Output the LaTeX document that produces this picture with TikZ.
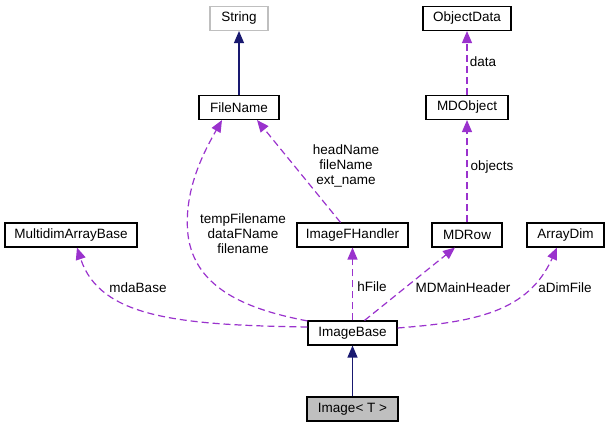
\documentclass[tikz,border=0pt]{standalone}
\usepackage{fontspec}
\setmainfont{Liberation Sans}
\usepackage{tikz}
\usetikzlibrary{arrows.meta}
\definecolor{inhblue}{HTML}{191970}
\definecolor{usepurple}{HTML}{9A32CD}
\definecolor{boxgray}{HTML}{BFBFBF}

\begin{document}
\begin{tikzpicture}[x=1pt, y=-1pt,
  cls/.style={draw, line width=1.1pt, minimum height=24pt, inner sep=0pt, font=\fontsize{13.5}{15}\selectfont},
  inherit/.style={draw=inhblue, line width=1.2pt, -{Triangle[length=12pt, width=10pt]}},
  usage/.style={draw=usepurple, line width=1.2pt, dash pattern=on 7pt off 4pt, -{Triangle[length=12pt, width=10pt]}},
  lbl/.style={font=\fontsize{13.5}{15}\selectfont, align=center, inner sep=0pt}]
  \useasboundingbox (0,0) rectangle (610,428);

  % Classes
  \node[cls, draw=boxgray, minimum width=58pt] (string) at (239,18.5) {String};
  \node[cls, minimum width=80pt] (filename) at (239,107.5) {FileName};
  \node[cls, minimum width=88pt] (objectdata) at (467,18.5) {ObjectData};
  \node[cls, minimum width=82pt] (mdobject) at (467,107.5) {MDObject};
  \node[cls, minimum width=132pt] (mdabase) at (71,235) {MultidimArrayBase};
  \node[cls, minimum width=111pt] (imagefhandler) at (352.5,235) {ImageFHandler};
  \node[cls, minimum width=70pt] (mdrow) at (467,235) {MDRow};
  \node[cls, minimum width=77pt] (arraydim) at (565.5,235) {ArrayDim};
  \node[cls, minimum width=89pt] (imagebase) at (352.5,333) {ImageBase};
  \node[cls, fill=boxgray, minimum width=91pt] (image) at (352.5,409) {Image< T >};

  % Inheritance
  \draw[inherit] (filename) -- (string);
  \draw[inherit] (image) -- (imagebase);

  % Members
  \draw[usage] (mdobject) -- (objectdata);
  \node[lbl] (l-data) at (483,62) {data};
  \draw[usage] (mdrow) -- (mdobject);
  \node[lbl] (l-objects) at (492,167) {objects};
  \draw[usage] ([xshift=-12pt]imagefhandler.north) -- ([xshift=18pt]filename.south);
  \node[lbl] (l-names) at (346,166) {headName\\fileName\\ext\_name};
  \draw[usage] (imagebase.165) .. controls (250,310) and (195,290) .. (188,235)
    .. controls (183,190) and (205,150) .. ([xshift=-17pt]filename.south);
  \node[lbl] (l-files) at (243,234) {tempFilename\\dataFName\\filename};
  \draw[usage] ([yshift=6pt]imagebase.west) .. controls (180,325) and (100,318) .. ([xshift=6pt]mdabase.south);
  \node[lbl] (l-mda) at (138,288) {mdaBase};
  \draw[usage] (imagebase) -- (imagefhandler);
  \node[lbl] (l-hfile) at (372,287) {hFile};
  \draw[usage] ([xshift=12pt]imagebase.north) -- ([xshift=-12pt]mdrow.south);
  \node[lbl] (l-header) at (463,288) {MDMainHeader};
  \draw[usage] ([yshift=5pt]imagebase.east) .. controls (475,322) and (528,312) .. ([xshift=-8.5pt]arraydim.south);
  \node[lbl] (l-adim) at (565,288) {aDimFile};
\end{tikzpicture}
\end{document}
